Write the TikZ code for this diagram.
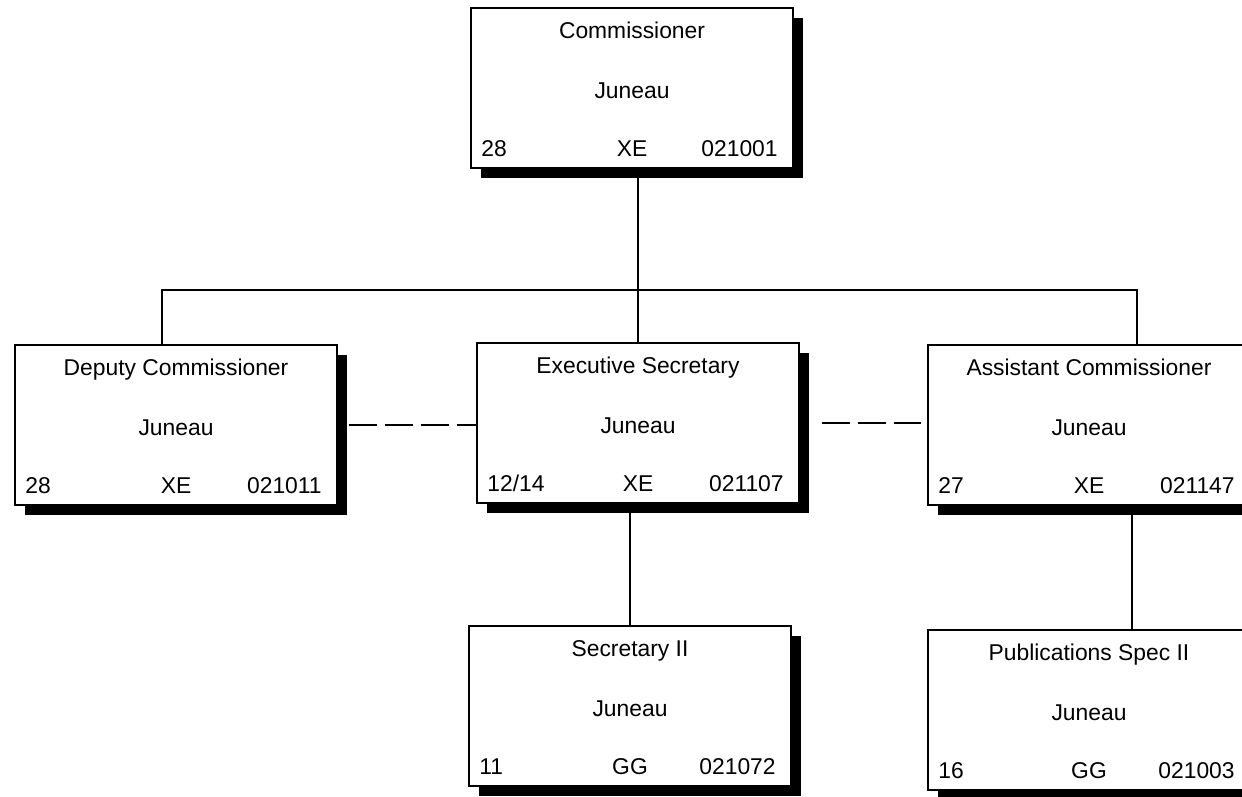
\documentclass[tikz,border=0pt]{standalone}
\usepackage{fontspec}
\setmainfont{Liberation Sans}
\usepackage{tikz}
\usetikzlibrary{shadows,positioning}

\begin{document}
\begin{tikzpicture}[x=0.02cm, y=-0.02cm,
      job/.style={rectangle, draw, line width=0.8pt, fill=white, inner sep=0pt,
        minimum width=6.44cm, minimum height=3.2cm,
        drop shadow={shadow xshift=0.2cm, shadow yshift=-0.2cm, fill=black, opacity=1}},
      lbl/.style={inner sep=0pt, font=\fontsize{13}{15}\selectfont},
      ln/.style={line width=1.1pt},
      dl/.style={line width=1.4pt, dash pattern=on 0.56cm off 0.16cm}]
    \useasboundingbox (0,0) rectangle (1242,796);
    \clip (0,0) rectangle (1242,796);
    % position boxes
    \foreach \nm/\x/\y/\ttl/\gr/\cl/\pcn in {
        comm/632/88/Commissioner/28/XE/021001,
        dep/176/425/Deputy Commissioner/28/XE/021011,
        exec/638/423/Executive Secretary/12\slash 14/XE/021107,
        asst/1089/425/Assistant Commissioner/27/XE/021147,
        sec/630/706/Secretary II/11/GG/021072,
        pub/1089/710/Publications Spec II/16/GG/021003}{
      \node[job] (\nm) at (\x,\y) {};
      \node[lbl, anchor=base] (\nm-ttl) at (\x,\y-50) {\ttl};
      \node[lbl, anchor=base] (\nm-loc) at (\x,\y+10) {Juneau};
      \node[lbl, anchor=base west] (\nm-gr) at (\x-151,\y+68) {\gr};
      \node[lbl, anchor=base] (\nm-cl) at (\x,\y+68) {\cl};
      \node[lbl, anchor=base east] (\nm-pcn) at (\x+146,\y+68) {\pcn};
    }
    \coordinate (busL) at (162,290);
    \coordinate (busR) at (1137,290);
    \coordinate (pubdrop) at (1132,600);
    % solid lines
    \draw[ln] (exec.north) -- (exec.north |- comm.south);
    \draw[ln] (busL |- dep.north) -- (busL) -- (busR) -- (busR |- asst.north);
    \draw[ln] (sec.north) -- (sec.north |- exec.south);
    \draw[ln] (pubdrop |- pub.north) -- (pubdrop |- asst.south);
    % dashed lines
    \draw[dl, shorten <=0.22cm] (dep.east) -- (dep.east -| exec.west);
    \draw[dl, shorten <=0.44cm, shorten >=0.12cm] (exec.east) -- (exec.east -| asst.west);
  \end{tikzpicture}
\end{document}
